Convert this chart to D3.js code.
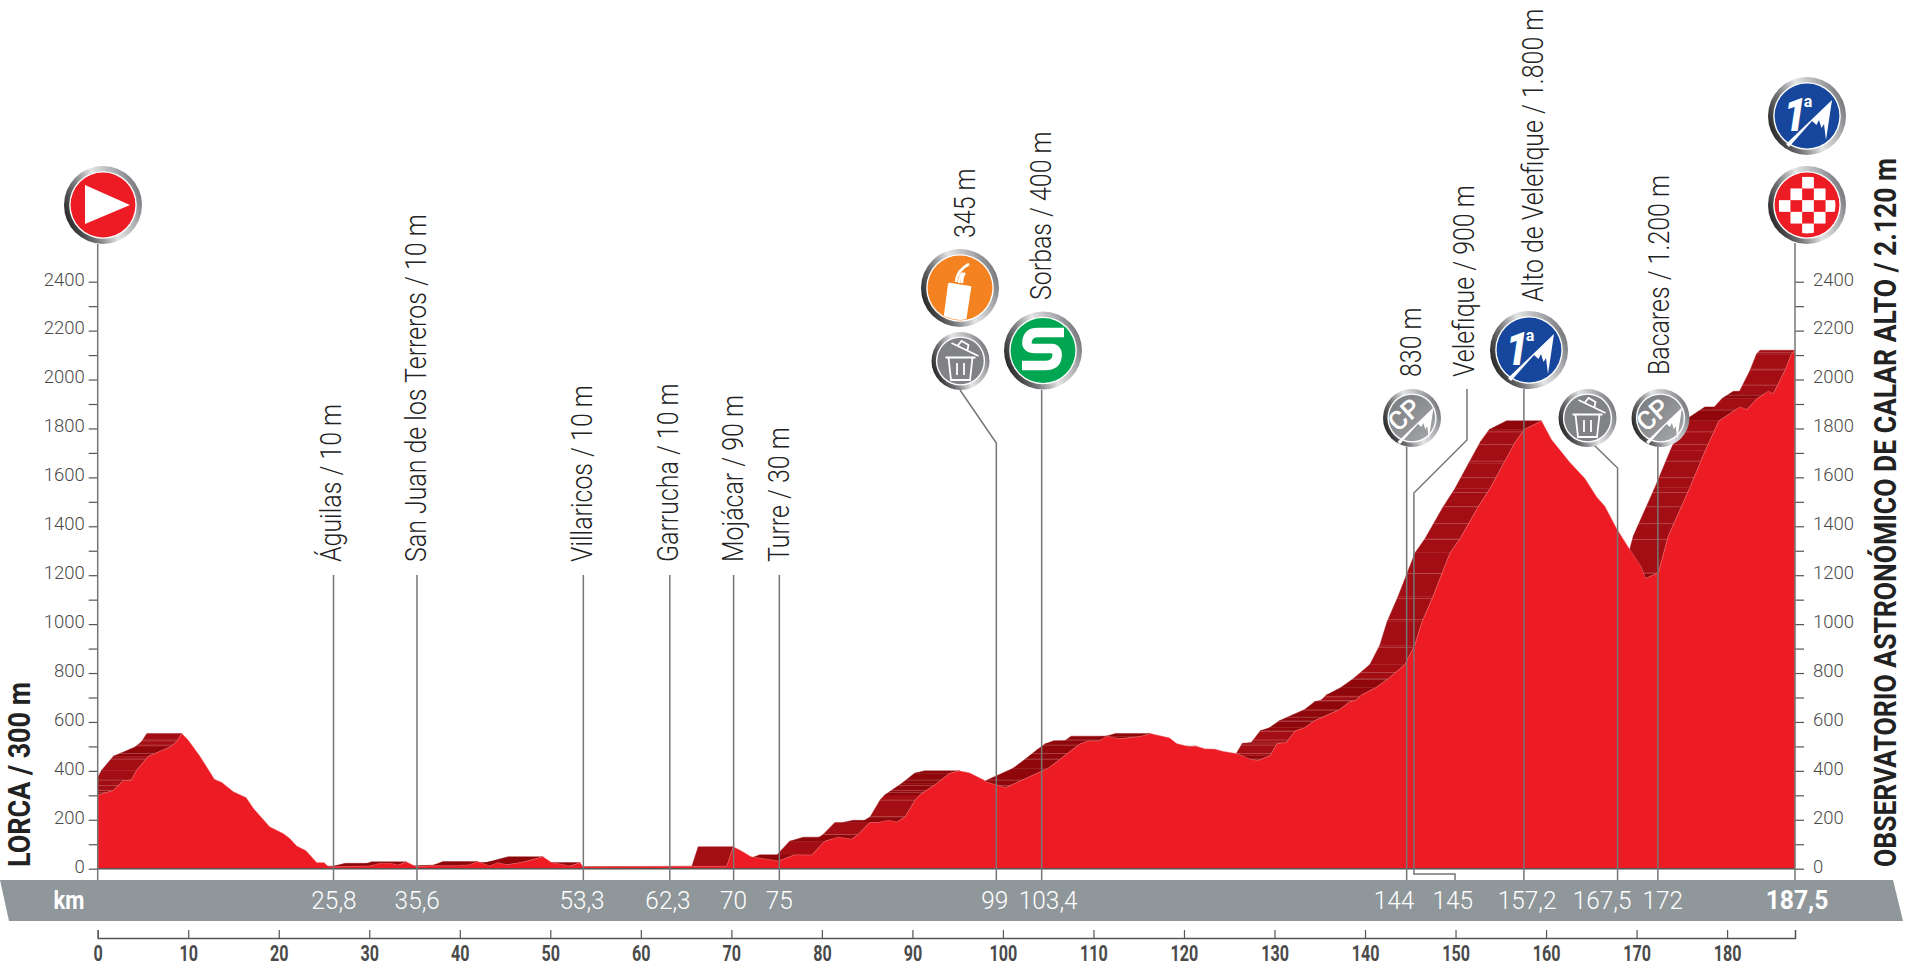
<!DOCTYPE html>
<html><head><meta charset="utf-8">
<script src="https://cdn.jsdelivr.net/npm/d3@7/dist/d3.min.js"></script>
<style>
html,body{margin:0;padding:0;background:#fff;overflow:hidden}
svg{display:block}
text{font-family:Roboto,"Liberation Sans",sans-serif}
</style></head><body>
<script>
// ---- data -----------------------------------------------------------
const profileKm=[0,1.7,2.8,3.7,4.3,5.6,8,8.7,9.3,10,11.3,12.9,13.7,15,16.4,17.2,19,20.5,21.2,22,23,24.2,25,25.5,26,30,31.2,32.3,33.2,34.1,35.2,36.7,39.3,41,42,43.3,44.2,45.2,47,49.2,50.1,52.2,53.3,53.6,69.5,70.2,70.95,72.2,75.2,77,78.9,79.4,80.3,81.8,83.3,84,85.3,86.2,87.3,88.3,89.2,90.3,90.8,92.7,94.1,95.2,96.3,97.8,98.2,100.3,105,106.3,107.6,108.5,109.4,110.7,111.4,112.9,115.3,116.3,118.4,119.2,120.6,121.4,122.3,123.4,124.3,125.8,127.3,128.2,129.5,130.3,131.3,132.3,133.3,134.4,137.2,138.3,139,139.6,141.2,142.6,144.4,145.5,146.3,147.5,148.5,149.4,150.5,152.5,153.8,155.3,156.6,157.6,159.5,160.6,162.6,164.3,165.6,166.5,167.8,169.3,170.45,171,172.4,173.5,175.9,177.6,179.1,181.4,182.2,183.3,184.55,185.1,186.4,187.1,187.5];
const profileM=[301,320,360,362,403,460,498,519,553,526,460,366,353,315,291,247,172,144,124,93,74,25,25,8,8,11,22,22,15,28,8,12,12,15,29,11,25,16,27,49,26,11,25,8,10,90,76,49,31,57,56,76,112,129,121,140,189,189,198,191,212,281,301,349,390,400,392,365,354,332,411,447,485,510,522,523,542,531,542,553,535,512,499,501,490,489,480,471,448,443,462,512,516,564,576,605,651,683,689,710,741,778,835,914,1010,1112,1207,1292,1350,1480,1554,1657,1745,1796,1831,1755,1663,1595,1520,1482,1391,1302,1238,1187,1210,1360,1560,1711,1831,1888,1877,1922,1952,1942,2038,2103,2120];
const contourM=[140,212,280,312,320,340,362,448,471,505,526,561,602,619,648,687,703,774,802,905,1019,1105,1207,1346,1411,1480,1538,1599,1666,1734,1786,1875,1936,1977,2042,2110];
const elevTicks=d3.range(0,2401,100);
const kmTicks=d3.range(0,181,10);
const routeKm=187.5;

const markerNames=["Águilas / 10 m","San Juan de los Terreros / 10 m","Villaricos / 10 m","Garrucha / 10 m","Mojácar / 90 m","Turre / 30 m","345 m","Sorbas / 400 m","830 m","Velefique / 900 m","Alto de Velefique / 1.800 m","Bacares / 1.200 m"];
const markerLineKm=[26.05,35.27,53.65,63.2,70.25,75.3,99.27,104.28,144.6,145.4,157.55,172.35];
const kmBandLabels=["25,8","35,6","53,3","62,3","70","75","99","103,4","144","145","157,2","167,5","172"];
const kmBandKm=[26.1,35.3,53.5,63.0,70.25,75.3,99.1,105.0,143.2,149.7,157.9,166.2,172.9];
const startName="LORCA / 300 m";
const finishName="OBSERVATORIO ASTRONÓMICO DE CALAR ALTO / 2.120 m";
// ---- layout ---------------------------------------------------------
const W=1909,H=966,X0=97.7,X1=1795,Y0=868.7,Y2400=281.7,SHIFT=35;
const ink="#555",pole="#767676";
const x=d3.scaleLinear().domain([0,routeKm]).range([X0,X1]);
const y=d3.scaleLinear().domain([0,2400]).range([Y0,Y2400]);
const pts=profileKm.map((k,i)=>[k,profileM[i]]);
const svg=d3.select("body").append("svg").attr("width",W).attr("height",H).attr("viewBox",`0 0 ${W} ${H}`);
const defs=svg.append("defs");
const ring=defs.append("linearGradient").attr("id","ring").attr("x1","0%").attr("y1","70%").attr("x2","100%").attr("y2","30%");
[[0,"#1e1e1e"],[.28,"#77787b"],[.52,"#e4e5e6"],[.8,"#a7a9ac"],[1,"#6d6e71"]].forEach(s=>ring.append("stop").attr("offset",s[0]).attr("stop-color",s[1]));
const greyDisc=defs.append("linearGradient").attr("id","grey").attr("x1","0%").attr("y1","0%").attr("x2","100%").attr("y2","100%");
[[0,"#77787b"],[1,"#a7a9ac"]].forEach(s=>greyDisc.append("stop").attr("offset",s[0]).attr("stop-color",s[1]));
defs.append("clipPath").attr("id","plot").append("rect").attr("x",X0).attr("y",0).attr("width",X1-X0).attr("height",Y0);

// ---- band -----------------------------------------------------------
svg.append("path").attr("d",d3.line()([[0,880],[1893,880],[1903,921],[9,921]])+"Z").attr("fill","#8f979b");

// ---- extruded back face, one parallelogram per climbing segment -----
const segs=d3.pairs(pts).filter(([a,b])=>b[1]>a[1]);
const slopeColor=d3.scaleThreshold().domain([30]).range(["#8f070b","#a30e14"]);
const segPath=([a,b])=>d3.line()([[x(a[0])-SHIFT,y(a[1])],[x(b[0])-SHIFT,y(b[1])],[x(b[0]),y(b[1])],[x(a[0]),y(a[1])]])+"Z";
defs.append("clipPath").attr("id","back").selectAll("path").data(segs).join("path").attr("d",segPath);
const backG=svg.append("g").attr("clip-path","url(#plot)");
backG.selectAll("path").data(segs).join("path").attr("d",segPath)
  .attr("fill",([a,b])=>slopeColor((b[1]-a[1])/(b[0]-a[0]))).attr("stroke",([a,b])=>slopeColor((b[1]-a[1])/(b[0]-a[0]))).attr("stroke-width",.4);
backG.append("g").attr("clip-path","url(#back)").selectAll("line").data(contourM).join("line")
  .attr("x1",X0).attr("x2",X1).attr("y1",d=>y(d)).attr("y2",d=>y(d)).attr("stroke","#fff").attr("stroke-opacity",.22).attr("stroke-width",1);

// ---- front face -----------------------------------------------------
svg.append("path").datum(pts)
  .attr("d",d3.area().x(d=>x(d[0])).y0(Y0).y1(d=>y(d[1])))
  .attr("fill","#ed1c24").attr("stroke","#f4908f").attr("stroke-width",.4);

// ---- axes -----------------------------------------------------------
function styleAxis(g){g.select(".domain").attr("stroke",ink).attr("stroke-width",1.4);g.selectAll(".tick line").attr("stroke",ink).attr("stroke-width",1.2);}
const lab=d=>d%200===0?d:"";
const ya=svg.append("g").attr("transform",`translate(${X0},0)`).call(d3.axisLeft(y).tickValues(elevTicks).tickFormat(lab).tickSize(9).tickPadding(4).tickSizeOuter(0));
const yb=svg.append("g").attr("transform",`translate(${X1},0)`).call(d3.axisRight(y).tickValues(elevTicks).tickFormat(lab).tickSize(9).tickPadding(9).tickSizeOuter(0));
[ya,yb].forEach(g=>{styleAxis(g);g.select(".domain").remove();g.selectAll("text").attr("font-size",18.5).attr("font-weight",300).attr("font-family","Roboto").attr("fill","#4a4a4a").attr("dy","0.18em");});
const xa=svg.append("g").attr("transform","translate(0,938)").call(d3.axisBottom(x).tickValues(kmTicks.concat([routeKm])).tickFormat(d=>d===routeKm?"":d).tickSize(-8).tickPadding(8.2).tickSizeOuter(-8));
styleAxis(xa);
xa.selectAll("text").attr("font-size",21.5).attr("font-weight",700).attr("font-family","Roboto").attr("fill","#4a4a4a").attr("transform","scale(.75,1)");

// baseline
svg.append("line").attr("x1",X0).attr("x2",X1).attr("y1",Y0).attr("y2",Y0).attr("stroke",ink).attr("stroke-width",1.5);

// ---- poles ----------------------------------------------------------
const poleLine=d3.line();
const poleDrawn=[
 [[x(markerLineKm[0]),575],[x(markerLineKm[0]),880]],
 [[x(markerLineKm[1]),575],[x(markerLineKm[1]),880]],
 [[x(markerLineKm[2]),575],[x(markerLineKm[2]),880]],
 [[x(markerLineKm[3]),575],[x(markerLineKm[3]),880]],
 [[x(markerLineKm[4]),575],[x(markerLineKm[4]),880]],
 [[x(markerLineKm[5]),575],[x(markerLineKm[5]),880]],
 [[960,390],[x(markerLineKm[6]),443],[x(markerLineKm[6]),880]],
 [[x(markerLineKm[7]),390],[x(markerLineKm[7]),880]],
 [[x(markerLineKm[8]),447],[x(markerLineKm[8]),880]],
 [[1467,389],[1467,440],[x(markerLineKm[9]),493],[x(markerLineKm[9]),874],[1455,874],[1455,880]],
 [[x(markerLineKm[10]),389],[x(markerLineKm[10]),880]],
 [[1594,445],[x(167.9),468],[x(167.9),880]],
 [[x(markerLineKm[11]),447],[x(markerLineKm[11]),880]],
 [[X0,244],[X0,880]],
 [[X1,243],[X1,880]]
];
svg.append("g").selectAll("path").data(poleDrawn).join("path").attr("d",d=>poleLine(d)).attr("fill","none").attr("stroke",pole).attr("stroke-width",1.5);

// ---- rotated place names -------------------------------------------
const labelX=[331,416,582,668,733,779,965,1041,1411,1464,1533,1659];
const labelBase=[562,562,562,562,562,562,238,300,377,377,302,375];
svg.append("g").selectAll("text").data(markerNames).join("text").text(d=>d)
  .attr("transform",(d,i)=>`translate(${labelX[i]},${labelBase[i]}) rotate(-90) scale(.86,1)`)
  .attr("dy","0.35em").attr("font-size",29).attr("font-weight",300).attr("fill","#222");

svg.append("text").text(startName).attr("transform","translate(18.5,867) rotate(-90)").attr("dy","0.36em")
  .attr("font-size",32).attr("font-weight",700).attr("fill","#222").attr("textLength",185).attr("lengthAdjust","spacingAndGlyphs");
svg.append("text").text(finishName).attr("transform","translate(1884.5,867) rotate(-90)").attr("dy","0.36em")
  .attr("font-size",32).attr("font-weight",700).attr("fill","#222").attr("textLength",709).attr("lengthAdjust","spacingAndGlyphs");

// ---- km band labels -------------------------------------------------
svg.append("g").selectAll("text").data(kmBandLabels).join("text").text(d=>d)
  .attr("transform",(d,i)=>`translate(${x(kmBandKm[i])},909) scale(.92,1)`).attr("text-anchor","middle")
  .attr("font-size",26.5).attr("font-weight",300).attr("fill","#fff");
svg.append("text").text("km").attr("transform","translate(69,909) scale(.85,1)").attr("text-anchor","middle").attr("font-size",26).attr("font-weight",700).attr("fill","#fff");
svg.append("text").text("187,5").attr("transform",`translate(1797,909) scale(.95,1)`).attr("text-anchor","middle").attr("font-size",26).attr("font-weight",700).attr("fill","#fff");

// ---- icons ----------------------------------------------------------
const clipId=(()=>{let n=0;return()=>"c"+(++n)})();
function disc(cx,cy,r,fill){
  const g=svg.append("g").attr("transform",`translate(${cx},${cy})`);
  const rw=r>32?5.2:4.4;
  g.append("circle").attr("r",r).attr("fill","url(#ring)");
  g.append("circle").attr("r",r-rw).attr("fill","#fff");
  g.append("circle").attr("r",r-rw-1.4).attr("fill",fill);
  return g;
}
const mountain=(g,s,dx,dy)=>g.append("path").attr("transform",`translate(${dx},${dy}) scale(${s})`).attr("fill","#fff")
  .attr("d","M-21,28 L25,-16 L19,24 L17,8 L14.5,12 L12,4 L9.5,9 L5,5 L-18,31Z");
function cat1(cx,cy){
  const g=disc(cx,cy,39,"#16479d");
  mountain(g,1,0,0);
  g.append("text").text("1").attr("transform","translate(-12,15) scale(.85,1)").attr("text-anchor","middle").attr("font-size",47).attr("font-weight",900).attr("font-style","italic").attr("fill","#fff");
  g.append("text").text("a").attr("x",1).attr("y",-9.5).attr("text-anchor","middle").attr("font-size",16).attr("font-weight",700).attr("fill","#fff");
}
function cp(cx,cy){
  const g=disc(cx,cy,29,"url(#grey)");
  mountain(g,.78,2,2);
  g.append("text").text("CP").attr("transform","translate(-1.7,3.4) rotate(-42)").attr("text-anchor","middle").attr("font-size",26).attr("font-weight",500).attr("fill","#fff");
}
function trash(cx,cy){
  const g=disc(cx,cy,29,"#808285");
  const t=g.append("g").attr("fill","none").attr("stroke","#fff").attr("stroke-width",1.8);
  t.append("path").attr("d","M-15,-3.5 H15 M-12,-3.5 L-9.5,19 H9.5 L12,-3.5 M-3.5,2 V14 M3.5,2 V14");
  t.append("path").attr("d","M-9,-18 L18,-5 M-3,-15 L1,-20 L8,-16 L7,-11");
}
function feed(cx,cy){
  const g=disc(cx,cy,39,"#f58220");
  const cid=clipId();
  defs.append("clipPath").attr("id",cid).append("circle").attr("r",32);
  const c=g.append("g").attr("clip-path",`url(#${cid})`);
  c.append("path").attr("d","M-17,34 L-12,-4 Q-11,-6 -9,-5 L10,-2 Q12,-2 11,1 L6,34Z").attr("fill","#fff");
  c.append("path").attr("d","M-4,-6 Q-3,-18 9,-24 M-1,-5 Q0,-13 3,-15 M2,-5 Q2,-12 5,-15").attr("fill","none").attr("stroke","#fff").attr("stroke-width",2.6);
}
function sprint(cx,cy){
  const g=disc(cx,cy,39,"#00a651");
  g.append("path").attr("d","M21,-18 H-5 Q-15,-18 -16,-9 Q-17,-2 -8,-2 H9 Q15,-1 14,6 Q13,15 2,15 H-21").attr("fill","none").attr("stroke","#fff").attr("stroke-width",9.5);
}
function start(cx,cy){
  const g=disc(cx,cy,39,"#ed1c24");
  g.append("path").attr("d","M-18,-20 L27,0 L-18,19Z").attr("fill","#fff");
}
function finish(cx,cy){
  const g=disc(cx,cy,39,"#ed1c24");
  const cid=clipId();
  defs.append("clipPath").attr("id",cid).append("circle").attr("r",28.5);
  const c=g.append("g").attr("clip-path",`url(#${cid})`);
  const cells=[];d3.range(-3,4).forEach(i=>d3.range(-3,4).forEach(j=>{if((i+j+8)%2===0&&Math.abs(i)+Math.abs(j)<=3)cells.push([i,j])}));
  c.selectAll("rect").data(cells).join("rect").attr("x",d=>d[0]*11.7-5.85+1).attr("y",d=>d[1]*11.7-5.85+1).attr("width",11.7).attr("height",11.7).attr("fill","#fff");
}
start(103,205);finish(1807,205);cat1(1807,116);cat1(1529,350);
feed(960,288);trash(960.5,361);sprint(1043,350.5);
cp(1412,418);trash(1587.5,418);cp(1660.5,418);
</script>
</body></html>
